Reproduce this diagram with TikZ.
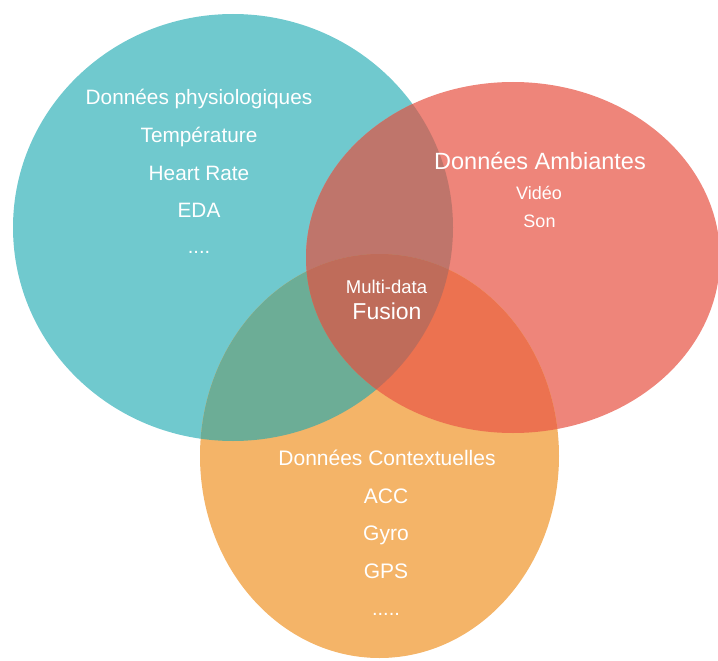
\documentclass[tikz,border=0pt]{standalone}
\usepackage{fontspec}
\setmainfont{Liberation Sans}
\definecolor{cT}{HTML}{70C9CE}
\definecolor{cR}{HTML}{EE857A}
\definecolor{cO}{HTML}{F4B468}
\definecolor{cTR}{HTML}{BF756B}
\definecolor{cTO}{HTML}{6CAD96}
\definecolor{cRO}{HTML}{EC7250}
\definecolor{cTRO}{HTML}{BF6C5A}
\begin{document}
\begin{tikzpicture}[x=1pt,y=-1pt,
  lbl/.style={text=white,anchor=base,inner sep=0pt,font=\fontsize{#1}{#1}\selectfont},
  lbl/.default=21]
\useasboundingbox (0,0) rectangle (718,661);
% circles
\fill[cT] (233,227.5) ellipse [x radius=220,y radius=213.5];
\fill[cR] (513,257.5) ellipse [x radius=207,y radius=175.5];
\fill[cO] (379.5,456) ellipse [x radius=179.5,y radius=202];
% pairwise overlaps
\begin{scope}
  \clip (233,227.5) ellipse [x radius=220,y radius=213.5];
  \fill[cTR] (513,257.5) ellipse [x radius=207,y radius=175.5];
\end{scope}
\begin{scope}
  \clip (233,227.5) ellipse [x radius=220,y radius=213.5];
  \fill[cTO] (379.5,456) ellipse [x radius=179.5,y radius=202];
\end{scope}
\begin{scope}
  \clip (513,257.5) ellipse [x radius=207,y radius=175.5];
  \fill[cRO] (379.5,456) ellipse [x radius=179.5,y radius=202];
\end{scope}
% triple overlap
\begin{scope}
  \clip (233,227.5) ellipse [x radius=220,y radius=213.5];
  \clip (513,257.5) ellipse [x radius=207,y radius=175.5];
  \fill[cTRO] (379.5,456) ellipse [x radius=179.5,y radius=202];
\end{scope}
% labels: physiological
\node[lbl=20.8] (p1) at (199,105) {Données physiologiques};
\node[lbl=20.8] (p2) at (199,142.5) {Température};
\node[lbl=20.8] (p3) at (199,180) {Heart Rate};
\node[lbl=20.8] (p4) at (199,217) {EDA};
\node[lbl=20] (p5) at (199,253) {....};
% ambient
\node[lbl=23.5] (a1) at (540,169) {Données Ambiantes};
\node[lbl=18] (a2) at (539,199) {Vidéo};
\node[lbl=18] (a3) at (539.5,227) {Son};
% fusion
\node[lbl=18.5] (f1) at (386.5,293) {Multi-data};
\node[lbl=23] (f2) at (387,319) {Fusion};
% contextual
\node[lbl=21] (c1) at (387,465) {Données Contextuelles};
\node[lbl=21] (c2) at (386,503) {ACC};
\node[lbl=21] (c3) at (386,540) {Gyro};
\node[lbl=21] (c4) at (386,578) {GPS};
\node[lbl=20] (c5) at (386,615) {.....};
\end{tikzpicture}
\end{document}
